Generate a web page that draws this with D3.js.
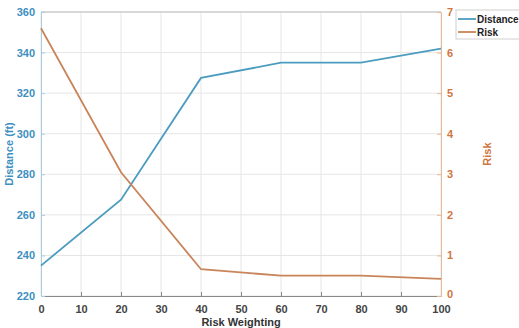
<!DOCTYPE html>
<html>
<head>
<meta charset="utf-8">
<script src="https://cdn.jsdelivr.net/npm/d3@7"></script>
<style>
  body { margin: 0; background: #fff; }
  text { font-family: "Liberation Sans", Arial, sans-serif; font-weight: bold; }
</style>
</head>
<body>
<div id="chart"></div>
<script>
// data
var weighting = [0, 20, 40, 60, 80, 100]
var distance = [235, 267.5, 327.5, 335, 335, 342]
var risk = [6.6, 3.05, 0.66, 0.5, 0.5, 0.42]
var xTicks = [0, 10, 20, 30, 40, 50, 60, 70, 80, 90, 100]
var yLeftTicks = [220, 240, 260, 280, 300, 320, 340, 360]
var yRightTicks = [0, 1, 2, 3, 4, 5, 6, 7]

var width = 519, height = 328
var margin = {top: 12, right: 78, bottom: 32, left: 41}

var blue = "#3d8fbf", orange = "#d0763f"
var blueLine = "#4b9cbf", orangeLine = "#c9845a"

var svg = d3.select("#chart").append("svg")
    .attr("width", width)
    .attr("height", height)

var x = d3.scaleLinear().domain([0, 100]).range([margin.left, width - margin.right])
var yL = d3.scaleLinear().domain([220, 360]).range([height - margin.bottom, margin.top])
var yR = d3.scaleLinear().domain([0, 7]).range([height - margin.bottom, margin.top])

// grid
svg.append("g").selectAll("line").data(xTicks).join("line")
    .attr("x1", d => x(d)).attr("x2", d => x(d))
    .attr("y1", margin.top).attr("y2", height - margin.bottom)
    .attr("stroke", "#e6e6e6").attr("stroke-width", 1)
svg.append("g").selectAll("line").data(yLeftTicks).join("line")
    .attr("x1", margin.left).attr("x2", width - margin.right)
    .attr("y1", d => yL(d)).attr("y2", d => yL(d))
    .attr("stroke", "#e6e6e6").attr("stroke-width", 1)

// top border
svg.append("line")
    .attr("x1", margin.left).attr("x2", width - margin.right)
    .attr("y1", margin.top).attr("y2", margin.top)
    .attr("stroke", "#bdbdbd")

// axes
var xAxis = svg.append("g")
    .attr("transform", "translate(0," + (height - margin.bottom) + ")")
    .call(d3.axisBottom(x).tickValues(xTicks).tickSizeInner(-4).tickSizeOuter(0).tickPadding(9))
xAxis.select(".domain").attr("stroke", "#8a8a8a")
xAxis.selectAll(".tick line").attr("stroke", "#8a8a8a")
xAxis.selectAll("text").attr("fill", "#444").attr("font-size", 11)

var leftAxis = svg.append("g")
    .attr("transform", "translate(" + margin.left + ",0)")
    .call(d3.axisLeft(yL).tickValues(yLeftTicks).tickSizeInner(-4).tickSizeOuter(0).tickPadding(6))
leftAxis.select(".domain").attr("stroke", "#a9cde0")
leftAxis.selectAll(".tick line").attr("stroke", "#a9cde0")
leftAxis.selectAll("text").attr("fill", blue).attr("font-size", 11)

var rightAxis = svg.append("g")
    .attr("transform", "translate(" + (width - margin.right) + ",0)")
    .call(d3.axisRight(yR).tickValues(yRightTicks).tickFormat(d3.format("d"))
        .tickSizeInner(-4).tickSizeOuter(0).tickPadding(6))
rightAxis.select(".domain").attr("stroke", "#e8b999")
rightAxis.selectAll(".tick line").attr("stroke", "#e8b999")
rightAxis.selectAll("text").attr("fill", orange).attr("font-size", 11)
// bottom label sits a little high, as in the reference
rightAxis.selectAll("text").filter(d => d === 0).attr("dy", "0.1em")

// lines
var lineL = d3.line().x((d, i) => x(weighting[i])).y(d => yL(d))
var lineR = d3.line().x((d, i) => x(weighting[i])).y(d => yR(d))

svg.append("path").datum(distance)
    .attr("d", lineL).attr("fill", "none")
    .attr("stroke", blueLine).attr("stroke-width", 1.8)
svg.append("path").datum(risk)
    .attr("d", lineR).attr("fill", "none")
    .attr("stroke", orangeLine).attr("stroke-width", 1.8)

// axis titles
svg.append("text")
    .attr("transform", "translate(13," + ((margin.top + height - margin.bottom) / 2) + ") rotate(-90)")
    .attr("text-anchor", "middle")
    .attr("fill", blue).attr("font-size", 11)
    .text("Distance (ft)")

svg.append("text")
    .attr("transform", "translate(491," + ((margin.top + height - margin.bottom) / 2) + ") rotate(-90)")
    .attr("text-anchor", "middle")
    .attr("fill", orange).attr("font-size", 11)
    .text("Risk")

svg.append("text")
    .attr("x", (margin.left + width - margin.right) / 2)
    .attr("y", 326)
    .attr("text-anchor", "middle")
    .attr("fill", "#333").attr("font-size", 11)
    .text("Risk Weighting")

// legend
var legend = svg.append("g").attr("transform", "translate(456,10)")
legend.append("rect")
    .attr("width", 66).attr("height", 29)
    .attr("fill", "#fff").attr("stroke", "#d0d0d0")
var items = [{name: "Distance", color: blueLine}, {name: "Risk", color: orangeLine}]
items.forEach(function(it, i) {
    legend.append("line")
        .attr("x1", 2).attr("x2", 20)
        .attr("y1", 9 + i * 13).attr("y2", 9 + i * 13)
        .attr("stroke", it.color).attr("stroke-width", 1.8)
    legend.append("text")
        .attr("x", 21).attr("y", 13 + i * 13)
        .attr("fill", "#222").attr("font-size", 10)
        .text(it.name)
})
</script>
</body>
</html>
